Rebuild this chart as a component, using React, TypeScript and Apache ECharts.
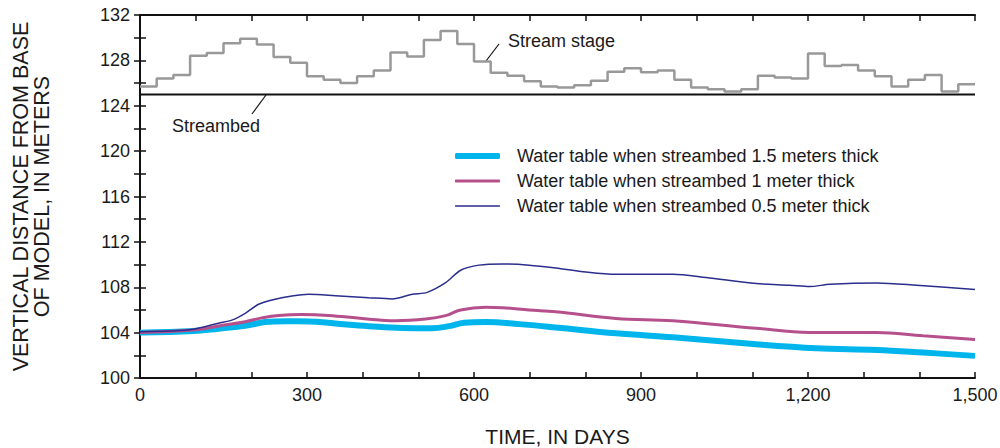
import React, { useEffect, useRef } from "react";
import * as echarts from "echarts";

// ---- Data ----
const stageDays = [
  0, 30, 60, 90, 120, 150, 180, 210, 240, 270, 300, 330, 360, 390, 420, 450, 480,
  510, 540, 570, 600, 630, 660, 690, 720, 750, 780, 810, 840, 870, 900, 930, 960,
  990, 1020, 1050, 1080, 1110, 1140, 1170, 1200, 1230, 1260, 1290, 1320, 1350,
  1380, 1410, 1440, 1470, 1500,
];
const stageValues = [
  125.7, 126.4, 126.7, 128.4, 128.65, 129.5, 129.9, 129.4, 128.3, 127.8, 126.6,
  126.3, 126.0, 126.6, 127.1, 128.7, 128.35, 129.8, 130.6, 129.45, 127.9, 126.9,
  126.65, 126.15, 125.7, 125.6, 125.8, 126.2, 127.0, 127.3, 126.95, 127.1, 126.3,
  125.6, 125.45, 125.25, 125.45, 126.65, 126.5, 126.4, 128.6, 127.5, 127.6, 127.1,
  126.6, 125.7, 126.3, 126.7, 125.25, 125.9, 125.9,
];

const streambedDays = [0, 1500];
const streambedValues = [125, 125];

const wt15Days = [0, 96, 141, 189, 225, 261, 303, 351, 411, 471, 525, 555, 582, 621, 681, 747, 855, 957, 1107, 1215, 1323, 1407, 1500];
const wt15Values = [104.0, 104.14, 104.35, 104.6, 104.93, 105.0, 104.99, 104.8, 104.57, 104.4, 104.38, 104.57, 104.87, 104.93, 104.75, 104.46, 103.94, 103.59, 102.97, 102.62, 102.47, 102.24, 101.95];

const wt10Days = [0, 96, 141, 189, 219, 249, 291, 339, 399, 459, 513, 549, 576, 621, 651, 699, 747, 855, 957, 1107, 1203, 1323, 1407, 1500];
const wt10Values = [104.02, 104.23, 104.58, 104.96, 105.3, 105.52, 105.6, 105.52, 105.25, 105.05, 105.2, 105.5, 106.0, 106.23, 106.2, 106.0, 105.83, 105.25, 105.05, 104.38, 104.02, 104.02, 103.72, 103.4];

const wt05Days = [0, 51, 96, 141, 165, 189, 213, 243, 273, 303, 351, 411, 453, 489, 516, 549, 576, 609, 651, 699, 747, 801, 855, 957, 1017, 1107, 1167, 1203, 1239, 1323, 1395, 1500];
const wt05Values = [104.08, 104.14, 104.3, 104.83, 105.1, 105.7, 106.5, 106.95, 107.23, 107.38, 107.26, 107.08, 106.97, 107.38, 107.55, 108.4, 109.5, 109.95, 110.05, 109.95, 109.7, 109.35, 109.15, 109.15, 108.86, 108.33, 108.18, 108.06, 108.26, 108.38, 108.18, 107.8];

const legendNames = [
  "Water table when streambed 1.5 meters thick",
  "Water table when streambed 1 meter thick",
  "Water table when streambed 0.5 meter thick",
];
const seriesColors = ["#00b5ec", "#b5508c", "#2b2e8c"];
const seriesWidths = [6, 3, 1.5];

const xTitle = "TIME, IN DAYS";
const yTitle = "VERTICAL DISTANCE FROM BASE\nOF MODEL, IN METERS";

const zip = (xs: number[], ys: number[]) => xs.map((x, i) => [x, ys[i]]);

const FONT = "Liberation Sans, Arial, sans-serif";
const TXT = "#1a1a1a";

export default function App() {
  const ref = useRef<HTMLDivElement>(null);
  useEffect(() => {
    document.body.style.margin = "0";
    if (!ref.current) return;
    const chart = echarts.init(ref.current, null, { renderer: "svg" });
    const axisLine = { show: true, lineStyle: { color: "#111", width: 2 } };
    const tick = { show: true, inside: true, length: 6, lineStyle: { color: "#111", width: 1.5 } };
    const xFmt = (v: number) => (v % 300 === 0 ? v.toLocaleString("en-US") : "");
    const yFmt = (v: number) => (v % 4 === 0 ? String(v) : "");
    const legendTops = [142, 167, 192];
    chart.setOption({
      animation: false,
      backgroundColor: "#fff",
      textStyle: { fontFamily: FONT },
      grid: { left: 140, right: 25, top: 15, bottom: 70, containLabel: false, outerBoundsMode: "none" },
      xAxis: [
        {
          type: "value", min: 0, max: 1500, interval: 100, position: "bottom",
          axisLine, axisTick: tick, splitLine: { show: false },
          axisLabel: { formatter: xFmt, color: TXT, fontSize: 18, margin: 8, fontFamily: FONT, showMaxLabel: true },
          name: xTitle, nameLocation: "middle", nameGap: 48,
          nameTextStyle: { fontSize: 21, color: TXT, fontFamily: FONT },
        },
        {
          type: "value", min: 0, max: 1500, interval: 100, position: "top",
          axisLine, axisTick: tick, splitLine: { show: false }, axisLabel: { show: false },
        },
      ],
      yAxis: [
        {
          type: "value", min: 100, max: 132, interval: 2, position: "left",
          axisLine, axisTick: tick, splitLine: { show: false },
          axisLabel: { formatter: yFmt, color: TXT, fontSize: 18, margin: 10, fontFamily: FONT },
          name: yTitle, nameLocation: "middle", nameGap: 88, nameRotate: 90,
          nameTextStyle: { fontSize: 21.5, lineHeight: 21, color: TXT, fontFamily: FONT },
        },
        {
          type: "value", min: 100, max: 132, interval: 2, position: "right",
          axisLine, axisTick: tick, splitLine: { show: false }, axisLabel: { show: false },
        },
      ],
      legend: legendNames.map((name, i) => ({
        data: [{ name, icon: "roundRect" }],
        orient: "vertical",
        left: 450,
        top: legendTops[i],
        itemWidth: 45,
        itemHeight: seriesWidths[i],
        textStyle: { fontSize: 18, color: TXT, fontFamily: FONT, padding: [0, 0, 0, 12] },
        selectedMode: false,
      })),
      series: [
        {
          name: "Stream stage", type: "line", step: "end", symbol: "none",
          data: zip(stageDays, stageValues),
          lineStyle: { color: "#999999", width: 2.5 }, z: 2,
        },
        {
          name: "Streambed", type: "line", symbol: "none",
          data: zip(streambedDays, streambedValues),
          lineStyle: { color: "#111", width: 2 }, z: 3,
        },
        {
          name: legendNames[0], type: "line", smooth: 0.4, symbol: "none",
          data: zip(wt15Days, wt15Values),
          lineStyle: { color: seriesColors[0], width: seriesWidths[0] }, itemStyle: { color: seriesColors[0] }, z: 4,
        },
        {
          name: legendNames[1], type: "line", smooth: 0.4, symbol: "none",
          data: zip(wt10Days, wt10Values),
          lineStyle: { color: seriesColors[1], width: seriesWidths[1] }, itemStyle: { color: seriesColors[1] }, z: 5,
        },
        {
          name: legendNames[2], type: "line", smooth: 0.3, symbol: "none",
          data: zip(wt05Days, wt05Values),
          lineStyle: { color: seriesColors[2], width: seriesWidths[2] }, itemStyle: { color: seriesColors[2] }, z: 6,
        },
      ],
      graphic: [
        { type: "text", left: 508, top: 32, style: { text: "Stream stage", fontSize: 18, fill: TXT, fontFamily: FONT } },
        { type: "line", shape: { x1: 486, y1: 61, x2: 499, y2: 44 }, style: { stroke: "#111", lineWidth: 1.2 } },
        { type: "text", left: 172, top: 117, style: { text: "Streambed", fontSize: 18, fill: TXT, fontFamily: FONT } },
        { type: "line", shape: { x1: 266, y1: 95, x2: 252, y2: 114 }, style: { stroke: "#111", lineWidth: 1.2 } },
      ],
    });
    return () => chart.dispose();
  }, []);
  return <div ref={ref} style={{ width: 1000, height: 448 }} />;
}
